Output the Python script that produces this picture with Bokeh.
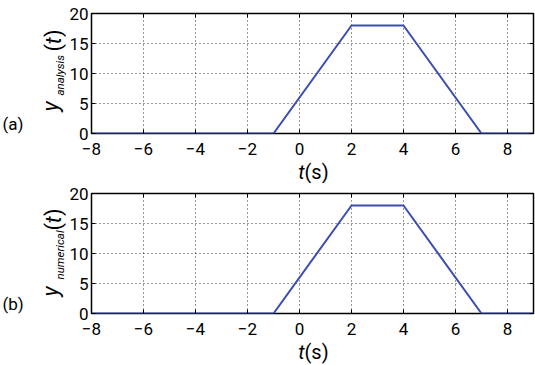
import math
from bokeh.plotting import figure
from bokeh.layouts import column, row
from bokeh.models import LinearAxis, FixedTicker, Range1d
from bokeh.core.properties import value
from bokeh.embed import file_html
from bokeh.resources import INLINE

t_values = [-8, -1, 2, 4, 7, 9]
y_analysis = [0, 0, 18, 18, 0, 0]
y_numerical = [0, 0, 18, 18, 0, 0]
x_ticks = [-8, -6, -4, -2, 0, 2, 4, 6, 8]
y_ticks = [0, 5, 10, 15, 20]
panel_tags = ["(a)", "(b)"]
subscripts = ["analysis", "numerical"]

FONT = "Roboto"
LINE_COLOR = "#3a4db0"
STRIP_W = 66


def blank(width, height, top, bottom):
    f = figure(width=width, height=height, output_backend="svg", toolbar_location=None,
               title=None,
               x_range=Range1d(0, width), y_range=Range1d(0, height - top - bottom),
               x_axis_type=None, y_axis_type=None,
               min_border=0, min_border_left=0, min_border_right=0,
               min_border_top=top, min_border_bottom=bottom)
    f.outline_line_color = None
    f.xgrid.visible = False
    f.ygrid.visible = False
    return f


def inner_axis(ticks):
    return LinearAxis(ticker=FixedTicker(ticks=ticks),
                      major_label_overrides={t: "" for t in ticks},
                      major_tick_in=4, major_tick_out=0, minor_tick_in=0, minor_tick_out=0,
                      axis_line_color=None, major_label_standoff=0,
                      major_label_text_font_size="1px")


def main_panel(yvals, height, top, bottom):
    p = figure(width=535 - STRIP_W, height=height, output_backend="svg", toolbar_location=None,
               title=None,
               x_range=Range1d(-8, 9), y_range=Range1d(0, 20),
               min_border_left=87 - STRIP_W, min_border_right=2,
               min_border_top=top, min_border_bottom=bottom)
    p.outline_line_color = "black"
    p.outline_line_width = 1.5
    for ax in (p.xaxis[0], p.yaxis[0]):
        ax.major_label_text_font = FONT
        ax.major_label_text_font_size = "17px"
        ax.major_label_text_color = "black"
        ax.major_tick_in = 4
        ax.major_tick_out = 0
        ax.minor_tick_in = 0
        ax.minor_tick_out = 0
        ax.axis_line_color = None
        ax.major_tick_line_color = "black"
    p.xaxis[0].ticker = FixedTicker(ticks=x_ticks)
    p.yaxis[0].ticker = FixedTicker(ticks=y_ticks)
    p.xaxis[0].major_label_standoff = 9
    p.yaxis[0].major_label_standoff = 3
    p.add_layout(inner_axis(y_ticks), "right")
    p.add_layout(inner_axis(x_ticks), "above")

    for g in (p.xgrid[0], p.ygrid[0]):
        g.grid_line_color = "black"
        g.grid_line_dash = "1 3"
        g.grid_line_width = 1
        g.grid_line_alpha = 0.8
    p.xgrid[0].ticker = FixedTicker(ticks=x_ticks)
    p.ygrid[0].ticker = FixedTicker(ticks=y_ticks)

    p.line(t_values, yvals, line_color=LINE_COLOR, line_width=2)
    return p


def left_strip(tag, sub, height, top, bottom, tag_y, y_start, sub_start, paren_start):
    # frame in pixel units; y measured upward from the frame bottom
    s = blank(STRIP_W, height, top, bottom)
    ang = math.pi / 2
    s.text(x=[2], y=[tag_y], text=[tag], text_font=value(FONT), text_font_size="17px",
           text_align="left", text_baseline="alphabetic", text_color="black")
    s.text(x=[50], y=[y_start], text=["y"], angle=ang, text_font=value(FONT),
           text_font_size="22px", text_font_style="italic",
           text_align="left", text_baseline="alphabetic", text_color="black")
    s.text(x=[59], y=[sub_start], text=[sub], angle=ang, text_font=value(FONT),
           text_font_size="11.5px", text_font_style="italic",
           text_align="left", text_baseline="alphabetic", text_color="black")
    s.text(x=[53], y=[paren_start], text=["("], angle=ang, text_font=value(FONT),
           text_font_size="22px", text_align="left", text_baseline="alphabetic", text_color="black")
    s.text(x=[53], y=[paren_start + 7.3], text=["t"], angle=ang, text_font=value(FONT),
           text_font_size="22px", text_font_style="italic",
           text_align="left", text_baseline="alphabetic", text_color="black")
    s.text(x=[53], y=[paren_start + 14.5], text=[")"], angle=ang, text_font=value(FONT),
           text_font_size="22px", text_align="left", text_baseline="alphabetic", text_color="black")
    return s


def bottom_strip(height, yb):
    s = blank(535, height, 0, 0)
    s.text(x=[304], y=[yb], text=["t"], text_font=value(FONT), text_font_size="20px",
           text_font_style="italic", text_align="right", text_baseline="alphabetic", text_color="black")
    s.text(x=[304], y=[yb], text=["(s)"], text_font=value(FONT), text_font_size="20px",
           text_align="left", text_baseline="alphabetic", text_color="black")
    return s


main_a = main_panel(y_analysis, 160, 13, 27)
left_a = left_strip(panel_tags[0], subscripts[0], 160, 13, 27, 10, 22, 38, 82)
bot_a = bottom_strip(23, 12)

main_b = main_panel(y_numerical, 157, 10, 27)
left_b = left_strip(panel_tags[1], subscripts[1], 157, 10, 27, 10, 17, 34, 83)
bot_b = bottom_strip(25, 14)

layout = column(row(left_a, main_a, spacing=0), bot_a,
                row(left_b, main_b, spacing=0), bot_b, spacing=0)

open("out.html", "w").write(file_html(layout, INLINE))
